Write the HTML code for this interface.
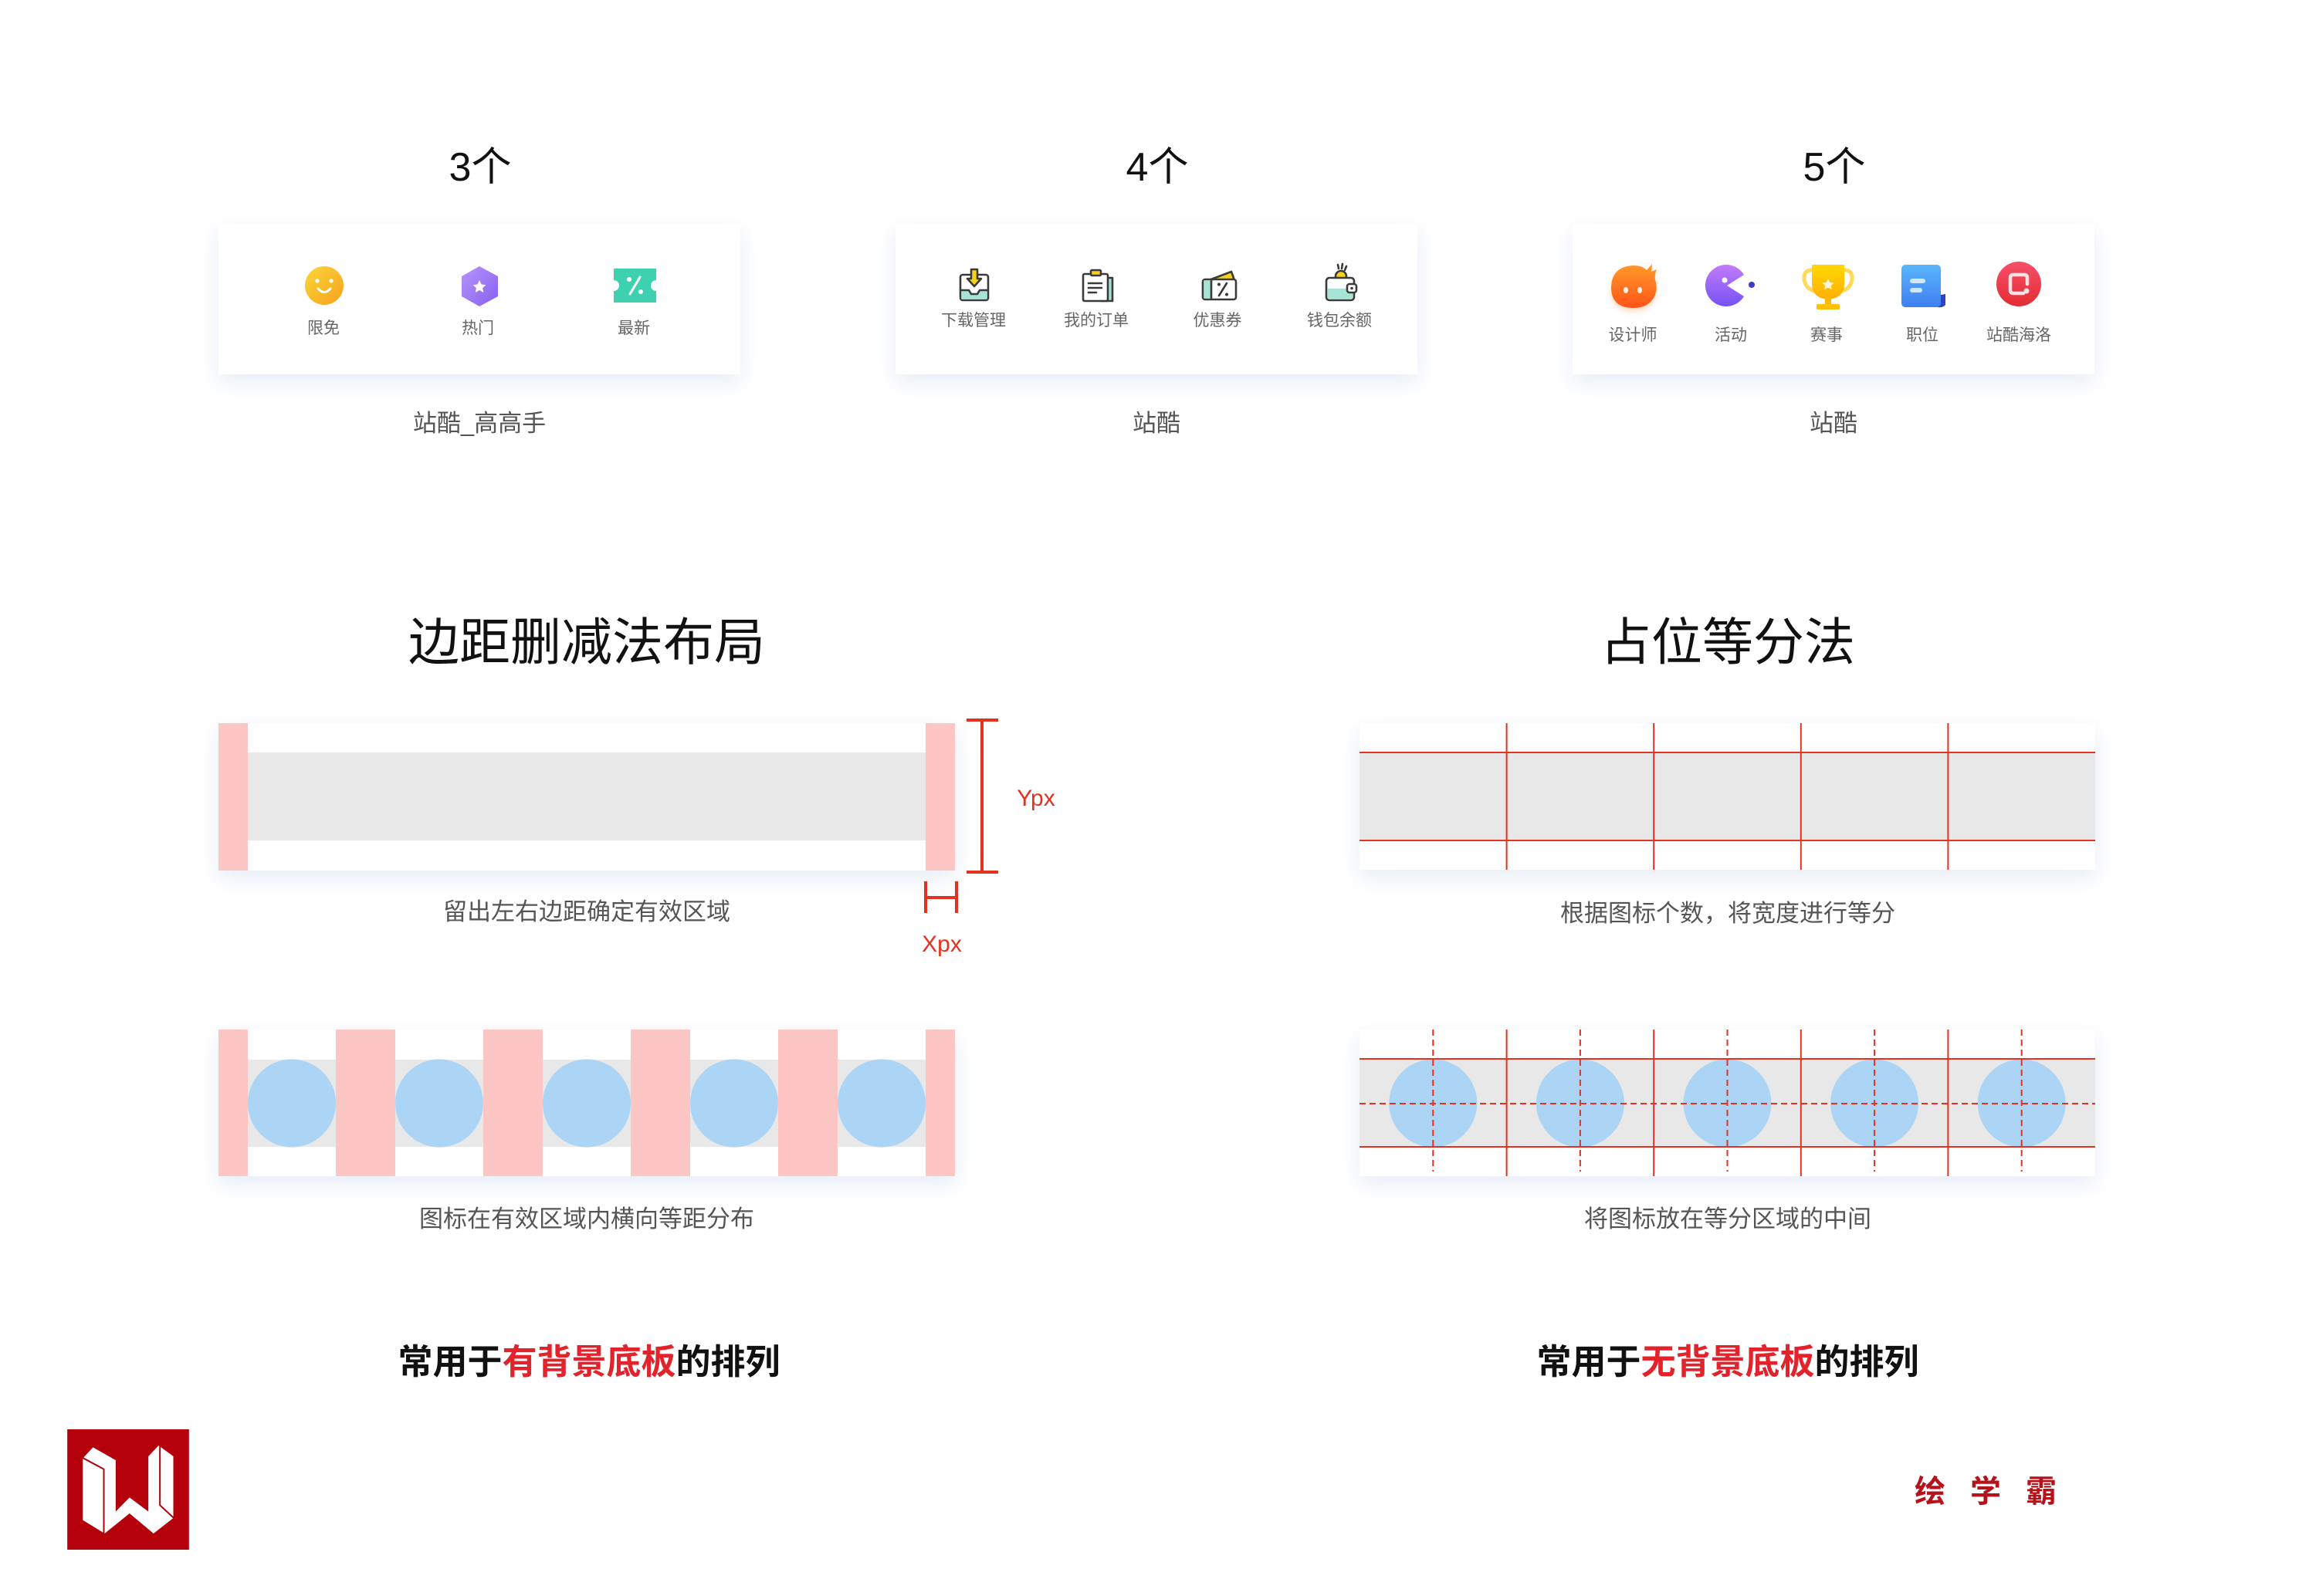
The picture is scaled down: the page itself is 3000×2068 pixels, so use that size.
<!DOCTYPE html>
<html><head><meta charset="utf-8"><style>
html,body{margin:0;padding:0;background:#fff;}
body{width:3000px;height:2068px;overflow:hidden;}
svg{display:block;}
text{font-family:"Liberation Sans","Noto Sans CJK SC",sans-serif;}
</style></head><body>
<svg width="3000" height="2068" viewBox="0 0 3000 2068" xmlns="http://www.w3.org/2000/svg">
<defs>
<filter id="sh" x="-10%" y="-30%" width="120%" height="170%"><feDropShadow dx="0" dy="10" stdDeviation="14" flood-color="#b4c3e0" flood-opacity="0.32"/></filter>
<filter id="gl" x="-50%" y="-50%" width="200%" height="200%"><feDropShadow dx="0" dy="4" stdDeviation="4" flood-opacity="0.25" flood-color="#ff6a00"/></filter>
<linearGradient id="gSmile" x1="0" y1="0" x2="1" y2="1"><stop offset="0" stop-color="#fbd63a"/><stop offset="1" stop-color="#f6a11e"/></linearGradient>
<linearGradient id="gHex" x1="0" y1="0" x2="1" y2="1"><stop offset="0" stop-color="#b695fb"/><stop offset="1" stop-color="#8660ef"/></linearGradient>
<linearGradient id="gFlame" x1="0" y1="0" x2="0" y2="1"><stop offset="0" stop-color="#ff9a2a"/><stop offset="1" stop-color="#ff5418"/></linearGradient>
<linearGradient id="gPac" x1="0" y1="0" x2="0" y2="1"><stop offset="0" stop-color="#c27cfb"/><stop offset="1" stop-color="#7552f2"/></linearGradient>
<linearGradient id="gTro" x1="0" y1="0" x2="0" y2="1"><stop offset="0" stop-color="#ffd800"/><stop offset="1" stop-color="#ffb000"/></linearGradient>
<linearGradient id="gDoc" x1="0" y1="0" x2="0" y2="1"><stop offset="0" stop-color="#5ab6fb"/><stop offset="1" stop-color="#3f7ef3"/></linearGradient>
<linearGradient id="gRed" x1="0" y1="0" x2="0" y2="1"><stop offset="0" stop-color="#f6506a"/><stop offset="1" stop-color="#e32c33"/></linearGradient>
</defs>

<!-- ===== Top titles ===== -->
<text x="622" y="234" font-size="52" text-anchor="middle" fill="#111">3个</text>
<text x="1499" y="234" font-size="52" text-anchor="middle" fill="#111">4个</text>
<text x="2376" y="234" font-size="52" text-anchor="middle" fill="#111">5个</text>

<!-- ===== Cards ===== -->
<rect x="283" y="290" width="676" height="195" fill="#fff" filter="url(#sh)"/>
<rect x="1160" y="290" width="676" height="195" fill="#fff" filter="url(#sh)"/>
<rect x="2037" y="290" width="676" height="195" fill="#fff" filter="url(#sh)"/>

<!-- Card 1 icons -->
<g transform="translate(-1,0)">
<circle cx="421" cy="370" r="25" fill="url(#gSmile)"/>
<circle cx="412" cy="364" r="2.6" fill="#fff"/>
<circle cx="430" cy="364" r="2.6" fill="#fff"/>
<path d="M413 374 Q421 383 429 374" stroke="#fff" stroke-width="3" fill="none" stroke-linecap="round"/>
</g>
<g transform="translate(-2,0)">
<polygon points="623,345 647,358 647,384 623,397 600,384 600,358" fill="url(#gHex)"/>
<polygon points="623,363 625.6,368.5 631.5,369.2 627.1,373.1 628.3,379 623,376 617.7,379 618.9,373.1 614.5,369.2 620.4,368.5" fill="#fff"/>
</g>
<g transform="translate(-3,0)">
<path d="M798 348 H853 V363 A7 7 0 0 0 853 377 V392 H798 V377 A7 7 0 0 0 798 363 Z" fill="#3ed1b0"/>
<line x1="819" y1="381" x2="832" y2="359" stroke="#fff" stroke-width="3" stroke-linecap="round"/>
<circle cx="818" cy="362" r="3" fill="#fff"/>
<circle cx="833" cy="378" r="3" fill="#fff"/>
</g>
<g font-size="21" fill="#666" text-anchor="middle">
<text x="419" y="432">限免</text>
<text x="619" y="432">热门</text>
<text x="821" y="432">最新</text>
</g>

<!-- Card 2 icons -->
<g stroke="#3a3a3a" stroke-width="2.6" stroke-linejoin="round" stroke-linecap="round">
<g transform="translate(-1,0)">
<rect x="1245" y="356" width="36" height="33" rx="3" fill="#fff"/>
<path d="M1246.3 376 H1256 L1259 381 H1267 L1270 376 H1279.7 V387.7 H1246.3 Z" fill="#a8e4d6" stroke="none"/>
<path d="M1246 376 H1256 L1259 381 H1267 L1270 376 H1280" fill="none"/>
<polygon points="1259,349 1267,349 1267,361 1272,361 1263,371 1254,361 1259,361" fill="#f7d21c"/>
</g>
<g transform="translate(-1,0)">
<rect x="1427" y="360" width="15" height="30" fill="#a8e4d6"/>
<rect x="1404" y="355" width="32" height="35" rx="2" fill="#fff"/>
<rect x="1414" y="350" width="13" height="7" rx="1.5" fill="#f7d21c"/>
<line x1="1411" y1="367" x2="1428" y2="367"/>
<line x1="1411" y1="373" x2="1428" y2="373"/>
<line x1="1411" y1="379" x2="1421" y2="379"/>
</g>
<g transform="translate(-2,0)">
<polygon points="1568,363 1597,352 1601,363" fill="#f7d21c"/>
<rect x="1560" y="362" width="43" height="26" rx="3" fill="#fff"/>
<rect x="1561.3" y="363.3" width="9" height="23.4" fill="#a8e4d6" stroke="none"/>
<line x1="1571" y1="363" x2="1571" y2="387"/>
<line x1="1581" y1="383" x2="1591" y2="367"/>
<circle cx="1581" cy="368.5" r="2" fill="#3a3a3a" stroke="none"/>
<circle cx="1591" cy="381.5" r="2" fill="#3a3a3a" stroke="none"/>
</g>
<g transform="translate(-3,0)">
<line x1="1736" y1="343" x2="1737" y2="348"/>
<line x1="1742" y1="342" x2="1741" y2="348"/>
<line x1="1747" y1="345" x2="1745" y2="350"/>
<circle cx="1740" cy="358" r="7" fill="#f7d21c"/>
<rect x="1721" y="360" width="36" height="29" rx="4" fill="#fff"/>
<path d="M1722.3 374 H1755.7 V384.7 Q1755.7 387.7 1752.7 387.7 H1725.3 Q1722.3 387.7 1722.3 384.7 Z" fill="#a8e4d6" stroke="none"/>
<rect x="1748" y="368" width="12" height="11" rx="3" fill="#fff"/>
<circle cx="1754" cy="373.5" r="1.8" fill="#3a3a3a" stroke="none"/>
</g>
</g>
<g font-size="21" fill="#666" text-anchor="middle">
<text x="1261" y="422">下载管理</text>
<text x="1420" y="422">我的订单</text>
<text x="1577" y="422">优惠券</text>
<text x="1735" y="422">钱包余额</text>
</g>

<!-- Card 3 icons -->
<g>
<g transform="translate(-1,0)">
<path d="M2117 344 Q2128 344 2134 350 L2141 342 L2140 352 L2147 349 Q2144 356 2145 362 Q2148 372 2145 382 Q2138 399 2117 399 Q2089 399 2088 374 Q2088 345 2117 344 Z" fill="url(#gFlame)" filter="url(#gl)"/>
<ellipse cx="2107" cy="376" rx="3" ry="4" fill="#fff" opacity="0.9"/>
<ellipse cx="2125" cy="376" rx="3" ry="4" fill="#fff" opacity="0.9"/>
</g>
<g transform="translate(-1,0)">
<path d="M2238 370 L2260 356 A27 27 0 1 0 2260 384 Z" fill="url(#gPac)"/>
<circle cx="2235" cy="363" r="3.5" fill="#fff"/>
<circle cx="2270" cy="369" r="4" fill="#3a3bc8"/>
</g>
<g transform="translate(-2,0)">
<path d="M2349 350 Q2338 350 2339 362 Q2341 374 2352 377" stroke="#ffd95a" stroke-width="5" fill="none"/>
<path d="M2391 350 Q2402 350 2401 362 Q2399 374 2388 377" stroke="#ffd95a" stroke-width="5" fill="none"/>
<path d="M2349 343 H2391 V368 Q2391 386 2370 388 Q2349 386 2349 368 Z" fill="url(#gTro)"/>
<rect x="2366" y="387" width="8" height="8" fill="#ffb800"/>
<rect x="2355" y="394" width="30" height="7" rx="2" fill="#ffc000"/>
<polygon points="2370,361 2372.4,366 2377.6,366.6 2373.7,370.1 2374.8,375.3 2370,372.6 2365.2,375.3 2366.3,370.1 2362.4,366.6 2367.6,366" fill="#fff" opacity="0.85"/>
</g>
<g transform="translate(-3,0)">
<path d="M2512 383 L2523 381 L2523 395 Q2520 399 2513 398 Z" fill="#2845c9"/>
<rect x="2466" y="343" width="51" height="55" rx="5" fill="url(#gDoc)"/>
<rect x="2477" y="361" width="20" height="6" rx="3" fill="#cfe7ff"/>
<rect x="2477" y="373" width="16" height="6" rx="3" fill="#cfe7ff"/>
</g>
<g transform="translate(-3,0)">
<circle cx="2618" cy="368" r="29" fill="url(#gRed)"/>
<path d="M2625 356 H2611 Q2607 356 2607 360 V376 Q2607 380 2611 380 H2624" stroke="#fde0e4" stroke-width="4.5" fill="none" stroke-linecap="round"/>
<circle cx="2628" cy="377" r="3.5" fill="#fde0e4"/>
<path d="M2625 356 Q2629 356 2629 360 V368" stroke="#fde0e4" stroke-width="4.5" fill="none" stroke-linecap="round"/>
</g>
</g>
<g font-size="21" fill="#666" text-anchor="middle">
<text x="2115" y="441">设计师</text>
<text x="2242" y="441">活动</text>
<text x="2366" y="441">赛事</text>
<text x="2490" y="441">职位</text>
<text x="2615" y="441">站酷海洛</text>
</g>

<!-- card captions -->
<g font-size="31" fill="#555" text-anchor="middle">
<text x="621" y="559">站酷_高高手</text>
<text x="1498" y="559">站酷</text>
<text x="2375" y="559">站酷</text>
</g>

<!-- ===== Section titles ===== -->
<text x="760" y="855" font-size="66" text-anchor="middle" fill="#111">边距删减法布局</text>
<text x="2238" y="855" font-size="66" text-anchor="middle" fill="#111">占位等分法</text>

<!-- ===== Left diagram 1 ===== -->
<rect x="283" y="937" width="954" height="191" fill="#fff" filter="url(#sh)"/>
<rect x="321" y="975" width="878" height="114" fill="#e8e8e8"/>
<rect x="283" y="937" width="38" height="191" fill="#fcc6c4"/>
<rect x="1199" y="937" width="38" height="191" fill="#fcc6c4"/>
<g stroke="#e3321f" stroke-width="4" fill="none">
<line x1="1272" y1="933" x2="1272" y2="1130"/>
<line x1="1252" y1="933" x2="1293" y2="933"/>
<line x1="1252" y1="1130" x2="1293" y2="1130"/>
<line x1="1199" y1="1163" x2="1239" y2="1163"/>
<line x1="1199" y1="1142" x2="1199" y2="1183"/>
<line x1="1239" y1="1142" x2="1239" y2="1183"/>
</g>
<text x="1342" y="1044" font-size="30" text-anchor="middle" fill="#e3321f">Ypx</text>
<text x="1220" y="1233" font-size="30" text-anchor="middle" fill="#e3321f">Xpx</text>
<text x="760" y="1192" font-size="31" text-anchor="middle" fill="#555">留出左右边距确定有效区域</text>

<!-- ===== Right diagram 1 ===== -->
<rect x="1761" y="937" width="953" height="190" fill="#fff" filter="url(#sh)"/>
<rect x="1761" y="975" width="953" height="114" fill="#e8e8e8"/>
<g stroke="#e3321f" stroke-width="2" fill="none">
<line x1="1761" y1="975" x2="2714" y2="975"/>
<line x1="1761" y1="1089" x2="2714" y2="1089"/>
<line x1="1951.6" y1="937" x2="1951.6" y2="1127"/>
<line x1="2142.2" y1="937" x2="2142.2" y2="1127"/>
<line x1="2332.8" y1="937" x2="2332.8" y2="1127"/>
<line x1="2523.4" y1="937" x2="2523.4" y2="1127"/>
</g>
<text x="2238" y="1194" font-size="31" text-anchor="middle" fill="#555">根据图标个数，将宽度进行等分</text>

<!-- ===== Left diagram 2 ===== -->
<rect x="283" y="1334" width="954" height="190" fill="#fff" filter="url(#sh)"/>
<rect x="321" y="1373" width="878" height="113" fill="#e8e8e8"/>
<g fill="#fcc6c4">
<rect x="283" y="1334" width="38" height="190"/>
<rect x="435" y="1334" width="77" height="190"/>
<rect x="626" y="1334" width="77" height="190"/>
<rect x="817" y="1334" width="77" height="190"/>
<rect x="1008" y="1334" width="77" height="190"/>
<rect x="1199" y="1334" width="38" height="190"/>
</g>
<g fill="#abd4f5">
<circle cx="378" cy="1429.5" r="57"/>
<circle cx="569" cy="1429.5" r="57"/>
<circle cx="760" cy="1429.5" r="57"/>
<circle cx="951" cy="1429.5" r="57"/>
<circle cx="1142" cy="1429.5" r="57"/>
</g>
<text x="760" y="1590" font-size="31" text-anchor="middle" fill="#555">图标在有效区域内横向等距分布</text>

<!-- ===== Right diagram 2 ===== -->
<rect x="1761" y="1334" width="953" height="190" fill="#fff" filter="url(#sh)"/>
<rect x="1761" y="1372" width="953" height="114" fill="#e8e8e8"/>
<g fill="#abd4f5">
<circle cx="1856.3" cy="1429.5" r="57"/>
<circle cx="2046.9" cy="1429.5" r="57"/>
<circle cx="2237.5" cy="1429.5" r="57"/>
<circle cx="2428.1" cy="1429.5" r="57"/>
<circle cx="2618.7" cy="1429.5" r="57"/>
</g>
<g stroke="#e3321f" stroke-width="2" fill="none">
<line x1="1761" y1="1372" x2="2714" y2="1372"/>
<line x1="1761" y1="1486" x2="2714" y2="1486"/>
<line x1="1951.6" y1="1334" x2="1951.6" y2="1524"/>
<line x1="2142.2" y1="1334" x2="2142.2" y2="1524"/>
<line x1="2332.8" y1="1334" x2="2332.8" y2="1524"/>
<line x1="2523.4" y1="1334" x2="2523.4" y2="1524"/>
</g>
<g stroke="#e3321f" stroke-width="2" fill="none" stroke-dasharray="8 5">
<line x1="1761" y1="1430" x2="2714" y2="1430"/>
<line x1="1856.3" y1="1334" x2="1856.3" y2="1518"/>
<line x1="2046.9" y1="1334" x2="2046.9" y2="1518"/>
<line x1="2237.5" y1="1334" x2="2237.5" y2="1518"/>
<line x1="2428.1" y1="1334" x2="2428.1" y2="1518"/>
<line x1="2618.7" y1="1334" x2="2618.7" y2="1518"/>
</g>
<text x="2238" y="1590" font-size="31" text-anchor="middle" fill="#555">将图标放在等分区域的中间</text>

<!-- ===== Bottom lines ===== -->
<text x="763" y="1780" font-size="45" font-weight="bold" text-anchor="middle" fill="#111">常用于<tspan fill="#e2232b">有背景底板</tspan>的排列</text>
<text x="2238" y="1780" font-size="45" font-weight="bold" text-anchor="middle" fill="#111">常用于<tspan fill="#e2232b">无背景底板</tspan>的排列</text>

<!-- ===== Logo ===== -->
<svg x="87" y="1852" width="158" height="156" viewBox="20 35 473 468">
<rect x="20" y="35" width="473" height="468" fill="#b3000a"/>
<polygon points="80,148 120,105 208,155 208,355 262,300 335,355 335,140 375,98 432,140 432,380 355,440 262,362 165,440 80,388" fill="#fff"/>
<polyline points="80,146 162,190 162,442" fill="none" stroke="#b3000a" stroke-width="6"/>
<polyline points="380,100 380,330 434,380" fill="none" stroke="#b3000a" stroke-width="6"/>
</svg>

<text x="2480" y="1946" font-size="40" font-weight="bold" fill="#b5121b" letter-spacing="32">绘学霸</text>
</svg>
</body></html>
